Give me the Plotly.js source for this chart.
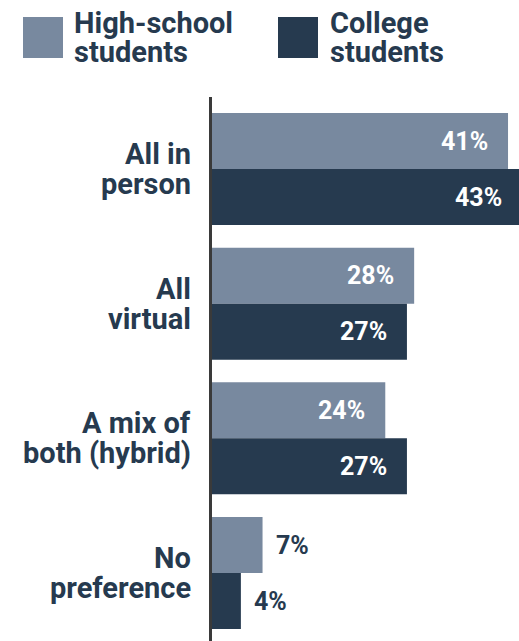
<!DOCTYPE html>
<html>
<head>
<meta charset="utf-8">
<script src="https://cdn.plot.ly/plotly-3.0.1.min.js"></script>
<style>html,body{margin:0;padding:0;background:#fff;}#chart{width:519px;height:641px;}</style>
</head>
<body>
<div id="chart"></div>
<script>
const categories = ["All in person", "All virtual", "A mix of both (hybrid)", "No preference"];
const categoryLines = [["All in", "person"], ["All", "virtual"], ["A mix of", "both (hybrid)"], ["No", "preference"]];
const seriesNames = ["High-school students", "College students"];
const legendLines = [["High-school", "students"], ["College", "students"]];
const highSchool = [41, 28, 24, 7];
const college = [43, 27, 27, 4];

const XMAX = 42.52;
const C_HS = "#78899f";
const C_CO = "#263a4f";
const TXT = "#263a4f";
const FONT = "Roboto, 'Noto Sans', sans-serif";

const traces = [
  {type: "bar", orientation: "h", name: seriesNames[0], y: categories, x: highSchool,
   marker: {color: C_HS}, hoverinfo: "none"},
  {type: "bar", orientation: "h", name: seriesNames[1], y: categories, x: college,
   marker: {color: C_CO}, hoverinfo: "none"}
];

const annotations = [];
// category labels, one annotation per line for tight line spacing
categoryLines.forEach((lines, i) => {
  lines.forEach((ln, j) => {
    annotations.push({xref: "paper", yref: "y", x: 0, y: categories[i], xanchor: "right", yanchor: "middle",
      xshift: -19, yshift: j === 0 ? 15 : -15, text: "<b>" + ln + "</b>", showarrow: false,
      font: {family: FONT, size: 29, color: TXT}, align: "right"});
  });
});
// value labels (x in paper units derived from the x-axis scale, so clipped bars keep their label)
[highSchool, college].forEach((vals, s) => {
  vals.forEach((v, i) => {
    const inside = v >= 10;
    annotations.push({xref: "paper", yref: "y", x: v / XMAX, y: categories[i],
      xanchor: inside ? "right" : "left", yanchor: "middle",
      xshift: inside ? -18 : 11, yshift: s === 0 ? 28 : -28,
      text: "<b>" + v + "%</b>", showarrow: false,
      font: {family: FONT, size: 25, color: inside ? "#ffffff" : TXT}});
  });
});
// legend text
const legendX = [-140, 116];
legendLines.forEach((lines, s) => {
  lines.forEach((ln, j) => {
    annotations.push({xref: "paper", yref: "paper", x: 0, y: 1, xanchor: "left", yanchor: "middle",
      xshift: legendX[s], yshift: j === 0 ? 74 : 45, text: "<b>" + ln + "</b>", showarrow: false,
      font: {family: FONT, size: 29, color: TXT}, align: "left"});
  });
});

const shapes = [
  {type: "rect", xref: "paper", yref: "paper", xsizemode: "pixel", ysizemode: "pixel",
   xanchor: 0, yanchor: 1, x0: -189, x1: -149, y0: 39, y1: 80, fillcolor: C_HS, line: {width: 0}},
  {type: "rect", xref: "paper", yref: "paper", xsizemode: "pixel", ysizemode: "pixel",
   xanchor: 0, yanchor: 1, x0: 66, x1: 106, y0: 39, y1: 80, fillcolor: C_CO, line: {width: 0}}
];

const layout = {
  width: 519, height: 641,
  margin: {l: 212, r: 0, t: 97, b: 0, pad: 0},
  paper_bgcolor: "#ffffff", plot_bgcolor: "#ffffff",
  barmode: "group", bargap: 0.168, bargroupgap: 0,
  showlegend: false,
  font: {family: FONT, color: TXT},
  xaxis: {range: [0, XMAX], showgrid: false, zeroline: false, showticklabels: false, showline: false, ticks: ""},
  yaxis: {type: "category", range: [3.505, -0.535], showgrid: false, zeroline: false, showticklabels: false,
          ticks: "", showline: true, linecolor: "#3a3a3a", linewidth: 3},
  annotations: annotations,
  shapes: shapes
};

Plotly.newPlot("chart", traces, layout, {staticPlot: true, displayModeBar: false});
</script>
</body>
</html>
